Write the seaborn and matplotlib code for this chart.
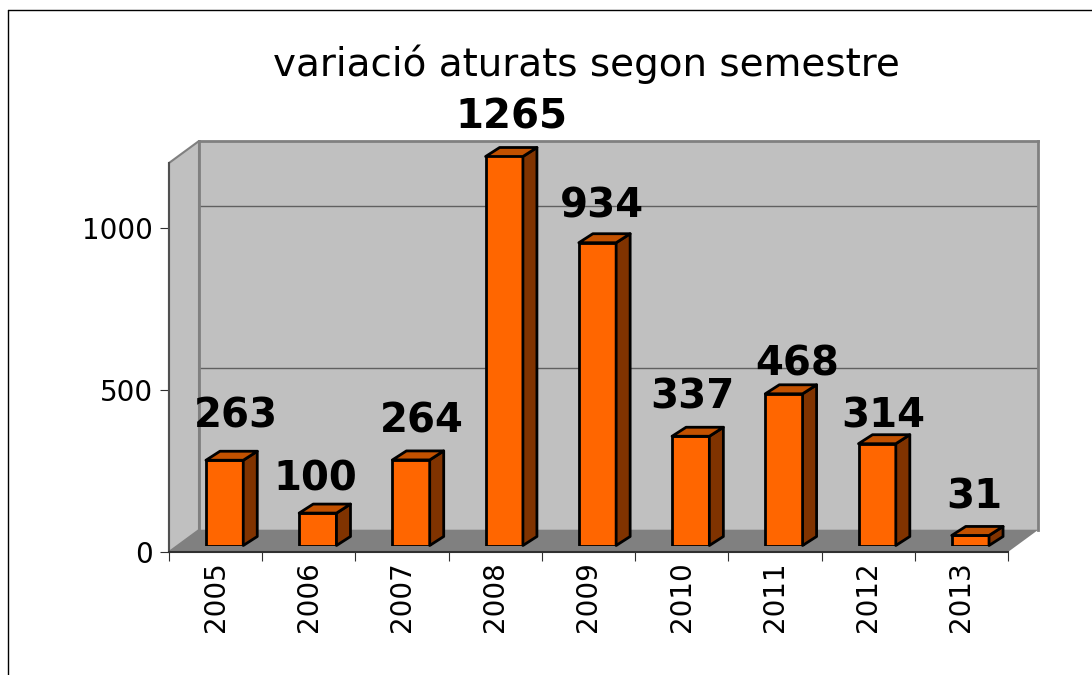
import matplotlib
matplotlib.use('Agg')
import matplotlib.pyplot as plt
import seaborn as sns
import numpy as np
from matplotlib.lines import Line2D
from matplotlib.patches import ConnectionPatch, Polygon
from matplotlib.transforms import IdentityTransform

years = ['2005', '2006', '2007', '2008', '2009', '2010', '2011', '2012', '2013']
values = [263, 100, 264, 1265, 934, 337, 468, 314, 31]
y_ticks = [0, 500, 1000]
title = 'variació aturats segon semestre'

# label shift from the bar top centre, in pixels
label_dx = [4, -10, 4, 0, -3, -5, 6, -1, -3]
label_dy = [44, 34, 38, 39, 36, 39, 29, 27, 38]

W, H = 1092, 675
y_max = 1200
FRONT = (169, 163, 1008, 552)
WALL_SHIFT = (30, -22)
BAR_SHIFT = (9, -6.5)
DEPTH = (14, 9)  # bar depth, pixels right and up

sns.set_theme(style='white')
plt.rcParams['font.family'] = ['DejaVu Sans']


def make_axes(fig, shift, zorder):
    l, t, r, b = FRONT
    l, r = l + shift[0], r + shift[0]
    t, b = t + shift[1], b + shift[1]
    a = fig.add_axes([l / W, 1 - b / H, (r - l) / W, (b - t) / H], zorder=zorder)
    a.set_xlim(-0.5, len(years) - 0.5)
    a.set_ylim(0, y_max)
    return a


fig = plt.figure(figsize=(W / 100, H / 100), dpi=100, facecolor='white')

# outer frame, only the top and left sides are in the picture
fig.add_artist(Line2D([8 / W, 8 / W], [0, 1 - 10 / H], color='black', lw=1, transform=fig.transFigure))
fig.add_artist(Line2D([8 / W, 1], [1 - 10 / H, 1 - 10 / H], color='black', lw=1, transform=fig.transFigure))

# back wall
wall = make_axes(fig, WALL_SHIFT, 1)
wall.set_facecolor('#C0C0C0')
wall.set_yticks(y_ticks)
wall.set_xticks([])
wall.tick_params(left=False, labelleft=False)
wall.grid(axis='y', color='#606060', lw=1)
wall.set_axisbelow(True)
for side in ['top', 'left', 'right']:
    wall.spines[side].set_color('#808080')
    wall.spines[side].set_linewidth(2)
wall.spines['bottom'].set_visible(False)

# front plane with the axes
ax = make_axes(fig, (0, 0), 2)
ax.patch.set_alpha(0)
for side in ['top', 'right']:
    ax.spines[side].set_visible(False)
ax.spines['left'].set_color('#505050')
ax.spines['left'].set_linewidth(1.5)
ax.spines['bottom'].set_color('#303030')
ax.spines['bottom'].set_linewidth(1.5)
ax.set_yticks(y_ticks)
ax.set_xticks(np.arange(len(years) + 1) - 0.5)
ax.set_xticklabels([])
ax.set_xticks(np.arange(len(years)), labels=years, minor=True)
ax.tick_params(axis='x', which='major', bottom=True, length=6.5, width=0.8, color='#303030')
ax.tick_params(axis='x', which='minor', bottom=False, labelbottom=True, labelsize=20,
               labelrotation=90, pad=2.5, labelcolor='black')
ax.tick_params(axis='y', left=True, length=6.5, width=0.8, color='#303030', labelsize=20,
               pad=5, labelcolor='black')

# side wall and floor, from the corners of the two planes
x0, x1 = ax.get_xlim()
fl, fr = ax.transData.transform([(x0, 0), (x1, 0)])
ftl = ax.transData.transform((x0, y_max))
wl, wr = wall.transData.transform([(x0, 0), (x1, 0)])
wtl = wall.transData.transform((x0, y_max))
wall.add_patch(Polygon([fl, wl, wtl, ftl], closed=True, facecolor='#C0C0C0', edgecolor='#808080',
                       lw=1.5, transform=IdentityTransform(), clip_on=False))
wall.add_patch(Polygon([fl, fr, wr, wl], closed=True, facecolor='#808080', edgecolor='none',
                       transform=IdentityTransform(), clip_on=False, zorder=3))

# grid lines carried across the side wall
for v in y_ticks[1:]:
    fig.add_artist(ConnectionPatch((x0, v), (x0, v), coordsA=ax.transData, coordsB=wall.transData,
                                   color='black', lw=0.8))

# bars
ax_bars = make_axes(fig, BAR_SHIFT, 3)
sns.barplot(x=years, y=values, ax=ax_bars, color='#FF6600', saturation=1, width=0.4,
            edgecolor='black', linewidth=2)
ax_bars.set_xlim(x0, x1)
ax_bars.set_ylim(0, y_max)
ax_bars.axis('off')
dx, dy = DEPTH
for bar, val, ldx, ldy in zip(list(ax_bars.patches), values, label_dx, label_dy):
    left = bar.get_x()
    right = left + bar.get_width()
    top = min(val, y_max)
    (xa, yb), (xb, yt) = ax_bars.transData.transform([(left, 0), (right, top)])
    ax_bars.add_patch(Polygon([(xb, yb), (xb + dx, yb + dy), (xb + dx, yt + dy), (xb, yt)], closed=True,
                              facecolor='#803300', edgecolor='black', lw=2,
                              joinstyle='round', transform=IdentityTransform(), clip_on=False, zorder=4))
    ax_bars.add_patch(Polygon([(xa, yt), (xb, yt), (xb + dx, yt + dy), (xa + dx, yt + dy)], closed=True,
                              facecolor='#C25100', edgecolor='black', lw=2,
                              joinstyle='round', transform=IdentityTransform(), clip_on=False, zorder=4))
    ax_bars.annotate(str(val), xy=((left + right) / 2, top), xytext=(dx / 2 + ldx, ldy),
                     textcoords='offset pixels', ha='center', va='center', fontsize=29,
                     fontweight='bold', color='black', annotation_clip=False, zorder=5)

fig.text(586 / W, 1 - 64 / H, title, ha='center', va='center', fontsize=28, color='black')

fig.savefig('out.png', dpi=100)
